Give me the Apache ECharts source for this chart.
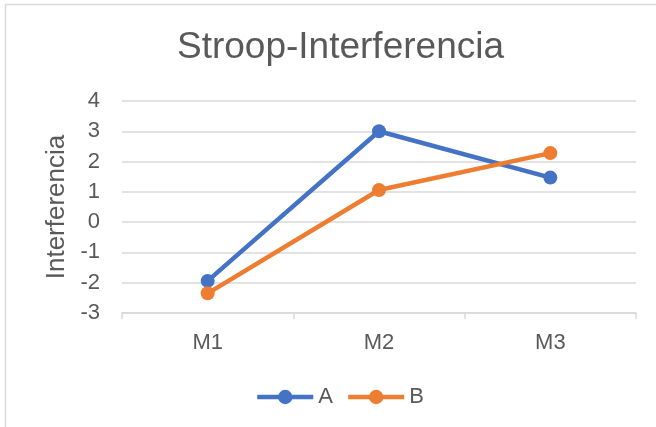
<!DOCTYPE html>
<html>
<head>
<meta charset="utf-8">
<script src="https://cdn.jsdelivr.net/npm/echarts@6/dist/echarts.min.js"></script>
<style>
  html, body { margin: 0; padding: 0; background: #fff; }
  #chart { width: 656px; height: 427px; }
</style>
</head>
<body>
<div id="chart"></div>
<script>
// data
const categories = ['M1', 'M2', 'M3']
const seriesA = [-1.94, 3.0, 1.47]
const seriesB = [-2.35, 1.06, 2.28]
const yTicks = { min: -3, max: 4, step: 1 }

const textColor = '#595959'
const gridColor = '#d9d9d9'

const chart = echarts.init(document.getElementById('chart'))

const lineSeries = (name, data, color) => ({
  name,
  type: 'line',
  data,
  symbol: 'circle',
  symbolSize: 14,
  color,
  lineStyle: { color, width: 4.5 },
  itemStyle: { color },
  animation: false
})

chart.setOption({
  backgroundColor: '#fff',
  textStyle: { fontFamily: 'Liberation Sans, Arial, sans-serif' },
  // outer chart border (cropped at right and bottom)
  graphic: [{
    type: 'rect',
    shape: { x: 5.5, y: 4.5, width: 700, height: 500 },
    style: { fill: 'none', stroke: gridColor, lineWidth: 1.5 },
    silent: true
  }],
  title: {
    text: 'Stroop-Interferencia',
    left: 172,
    top: 24,
    textStyle: { color: textColor, fontSize: 37, fontWeight: 'normal' }
  },
  grid: {
    left: 122,
    right: 20,
    top: 101,
    bottom: 114
  },
  legend: {
    data: ['A', 'B'],
    left: 250,
    top: 381,
    itemWidth: 56,
    itemHeight: 18,
    itemGap: 13,
    lineStyle: { width: 4.5 },
    textStyle: { color: textColor, fontSize: 22 }
  },
  xAxis: {
    type: 'category',
    data: categories,
    boundaryGap: true,
    axisLine: { onZero: false, lineStyle: { color: gridColor, width: 1.5 } },
    axisTick: { show: true, length: 6, lineStyle: { color: gridColor, width: 1.5 } },
    axisLabel: { color: textColor, fontSize: 22, margin: 19 }
  },
  yAxis: {
    type: 'value',
    min: yTicks.min,
    max: yTicks.max,
    interval: yTicks.step,
    name: 'Interferencia',
    nameLocation: 'middle',
    nameGap: 50,
    nameTextStyle: { color: textColor, fontSize: 26 },
    axisLine: { show: false },
    axisTick: { show: false },
    axisLabel: { color: textColor, fontSize: 22, margin: 22 },
    splitLine: { lineStyle: { color: gridColor, width: 1.5 } }
  },
  series: [
    lineSeries('A', seriesA, '#4472C4'),
    lineSeries('B', seriesB, '#ED7D31')
  ]
})
</script>
</body>
</html>
